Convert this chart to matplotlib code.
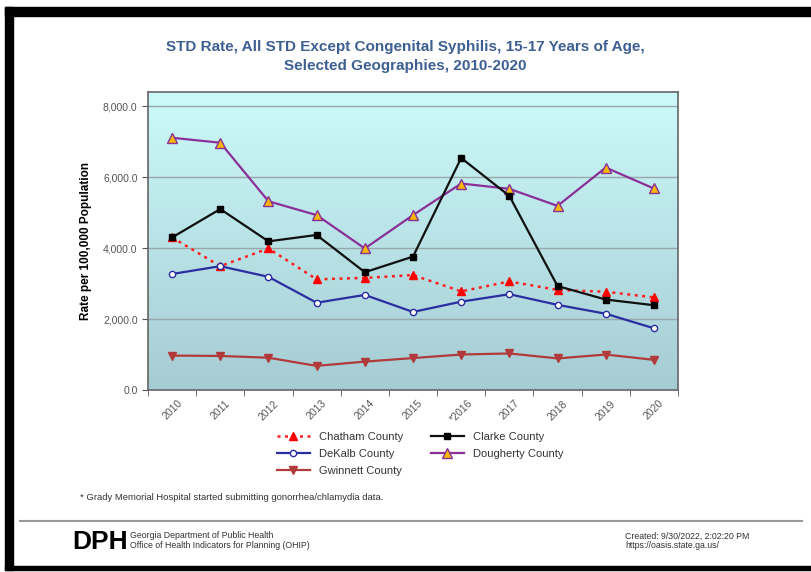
import numpy as np
import matplotlib.pyplot as plt
from matplotlib.patches import Rectangle
from matplotlib.lines import Line2D

plt.rcParams['font.family'] = ['Liberation Sans', 'DejaVu Sans']

# Data
years = ["2010", "2011", "2012", "2013", "2014", "2015", "*2016", "2017", "2018", "2019", "2020"]
chatham = [4300, 3490, 3990, 3120, 3160, 3240, 2780, 3060, 2820, 2770, 2610]
clarke = [4300, 5100, 4190, 4370, 3320, 3760, 6540, 5470, 2930, 2550, 2390]
dekalb = [3270, 3490, 3190, 2460, 2680, 2200, 2490, 2700, 2400, 2150, 1740]
dougherty = [7110, 6970, 5320, 4930, 3990, 4930, 5820, 5670, 5190, 6270, 5680]
gwinnett = [970, 960, 910, 680, 800, 900, 1000, 1030, 890, 1000, 850]

W, H = 811, 572
fig = plt.figure(figsize=(W / 100, H / 100), dpi=100)
fig.patch.set_facecolor("white")

# black frame (top, left, bottom)
fig.add_artist(Rectangle((5 / W, 1 - 16 / H), 1, 9 / H, transform=fig.transFigure, color="black"))
fig.add_artist(Rectangle((5 / W, 2 / H), 8 / W, 1 - 9 / H, transform=fig.transFigure, color="black"))
fig.add_artist(Rectangle((5 / W, 2 / H), 1, 4 / H, transform=fig.transFigure, color="black"))

# title
fig.text(405 / W, 1 - 47 / H, "STD Rate, All STD Except Congenital Syphilis, 15-17 Years of Age,",
         ha="center", va="center", fontsize=11, fontweight="bold", color="#3d5f92")
fig.text(405 / W, 1 - 66 / H, "Selected Geographies, 2010-2020",
         ha="center", va="center", fontsize=11, fontweight="bold", color="#3d5f92")

ax = fig.add_axes([148 / W, 1 - 390 / H, (678 - 148) / W, (390 - 92) / H])
x = np.arange(len(years))
ax.set_xlim(-0.5, len(years) - 0.5)
ax.set_ylim(0, 8400)

# gradient background
top = np.array([0.80, 0.98, 0.98])
bot = np.array([0.65, 0.80, 0.83])
t = np.linspace(0, 1, 256)[:, None]
grad = (top * (1 - t) + bot * t)[:, None, :]
ax.imshow(grad, extent=[-0.5, len(years) - 0.5, 0, 8400], aspect="auto", zorder=0, origin="upper")

for yv in [2000, 4000, 6000, 8000]:
    ax.axhline(yv, color="#98a8aa", lw=1.0, zorder=1)

ax.plot(x, chatham, color="#ff2020", ls=(0, (1.2, 1.8)), lw=1.8, marker="^", ms=5.5,
        mfc="#ff0000", mec="#ff0000", zorder=3, label="Chatham County")
ax.plot(x, clarke, color="#101010", lw=1.6, marker="s", ms=4.5,
        mfc="black", mec="black", zorder=4, label="Clarke County")
ax.plot(x, dekalb, color="#2a2ea0", lw=1.6, marker="o", ms=4.5,
        mfc="white", mec="#2a2ea0", zorder=3, label="DeKalb County")
ax.plot(x, dougherty, color="#8b2f99", lw=1.6, marker="^", ms=6.5, mew=1.0,
        mfc="#f5b800", mec="#8b2f99", zorder=3, label="Dougherty County")
ax.plot(x, gwinnett, color="#b23a3a", lw=1.6, marker="v", ms=5.5,
        mfc="#b23a3a", mec="#b23a3a", zorder=3, label="Gwinnett County")

ax.set_yticks([0, 2000, 4000, 6000, 8000])
ax.set_yticklabels(["0.0", "2,000.0", "4,000.0", "6,000.0", "8,000.0"])
ax.set_xticks(x)
ax.set_xticklabels(years, rotation=45, ha="center", va="top")
ax.set_xticks(np.arange(len(years) + 1) - 0.5, minor=True)
ax.tick_params(axis="x", which="major", length=0, pad=6, labelsize=7.5, labelcolor="#555555")
ax.tick_params(axis="x", which="minor", length=4, color="#555555", direction="out")
ax.tick_params(axis="y", length=4, color="#555555", labelsize=7.5, labelcolor="#555555")
for s in ax.spines.values():
    s.set_color("#666666")
    s.set_linewidth(1.2)
ax.set_ylabel("Rate per 100,000 Population", fontsize=8.5, fontweight="bold", labelpad=8)

h, l = ax.get_legend_handles_labels()
order = [0, 2, 4, 1, 3]
fig.legend([h[i] for i in order], [l[i] for i in order], ncol=2,
           loc="center", bbox_to_anchor=(420 / W, 1 - 454 / H), frameon=False,
           fontsize=8, handlelength=3, columnspacing=2.5, labelspacing=0.6,
           labelcolor="#333333")

fig.text(80 / W, 1 - 498 / H, "* Grady Memorial Hospital started submitting gonorrhea/chlamydia data.",
         fontsize=6.8, color="#333333", va="center")

fig.add_artist(Line2D([20 / W, 802 / W], [1 - 521 / H, 1 - 521 / H], transform=fig.transFigure,
                      color="#999999", lw=1.5))

fig.text(72 / W, 1 - 542 / H, "DPH", fontsize=19, fontweight="bold", color="black",
         va="center", ha="left")
fig.text(130 / W, 1 - 536 / H, "Georgia Department of Public Health", fontsize=6.3,
         color="#333333", va="center")
fig.text(130 / W, 1 - 546 / H, "Office of Health Indicators for Planning (OHIP)", fontsize=6.3,
         color="#333333", va="center")
fig.text(625 / W, 1 - 536 / H, "Created: 9/30/2022, 2:02:20 PM", fontsize=6.3,
         color="#333333", va="center")
fig.text(625 / W, 1 - 546 / H, "https://oasis.state.ga.us/", fontsize=6.3,
         color="#333333", va="center")

fig.savefig("out.png", dpi=100)
